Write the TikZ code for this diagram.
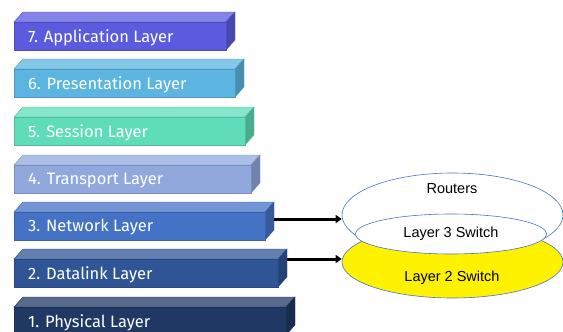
\documentclass[tikz,border=0pt]{standalone}
\usepackage{fontspec}
\setmainfont{Fira Sans}
\newfontfamily\ringfont{Liberation Sans}
\usetikzlibrary{shapes.geometric,arrows.meta}
\definecolor{lay7}{HTML}{5B5BE0}
\definecolor{lay6}{HTML}{5BB5E0}
\definecolor{lay5}{HTML}{5EDDB8}
\definecolor{lay4}{HTML}{90A8DC}
\definecolor{lay3}{HTML}{4472C4}
\definecolor{lay2}{HTML}{2F5597}
\definecolor{lay1}{HTML}{203864}
\definecolor{ringblue}{HTML}{4A74C0}
\tikzset{
  laytext/.style={anchor=west,inner xsep=14pt,inner ysep=0pt,minimum height=28pt,
    text=white,font=\fontsize{16.5}{16.5}\selectfont},
  ring/.style={ellipse,draw=ringblue,line width=0.6pt,inner sep=0pt},
  ringtext/.style={font=\ringfont\fontsize{14.5}{14.5}\selectfont},
  link/.style={line width=3pt,-{Triangle[length=6pt,width=8pt]}}
}
\begin{document}
\begin{tikzpicture}[x=1pt,y=-1pt]
\useasboundingbox (0,0) rectangle (563,332);
\clip (0,0) rectangle (563,332);
% layers: number/name/top of front face/width
\foreach \n/\name/\y/\w in {7/Application/22/212,6/Presentation/69/221,5/Session/117/231,
  4/Transport/165/237,3/Network/212/251,2/Datalink/259/264,1/Physical/307/272}{
  \filldraw[fill=lay\n!75!white,draw=lay\n!85!black,line width=0.4pt]
    (14,\y) -- ++(9,-10) -- ++(\w,0) -- ++(-9,10) -- cycle;
  \filldraw[fill=lay\n!78!black,draw=lay\n!85!black,line width=0.4pt]
    (14+\w,\y) -- ++(9,-10) -- ++(0,28) -- ++(-9,10) -- cycle;
  \filldraw[fill=lay\n,draw=lay\n!85!black,line width=0.4pt] (14,\y) rectangle ++(\w,28);
  \node[laytext] (L\n) at (14,\y+15.5) {\n. \name\ Layer};
  \coordinate (S\n) at (23+\w,\y);
}
% devices
\node[ring,fill=white,minimum width=221pt,minimum height=84pt] (R) at (452.5,215) {};
\node[ringtext] (Rt) at (452,189) {Routers};
\node[ring,fill=yellow,minimum width=221pt,minimum height=72pt] (Y) at (452.5,262) {};
\node[ringtext] (Yt) at (452,278) {Layer 2 Switch};
\node[ring,ringtext,fill=white,minimum width=191pt,minimum height=40pt] (M) at (451,234) {Layer 3 Switch};
% links
\draw[link] ([yshift=-7pt]S3) -- ([yshift=-7pt]S3 -| R.west);
\draw[link] (S2) -- (S2 -| Y.west);
\end{tikzpicture}
\end{document}
